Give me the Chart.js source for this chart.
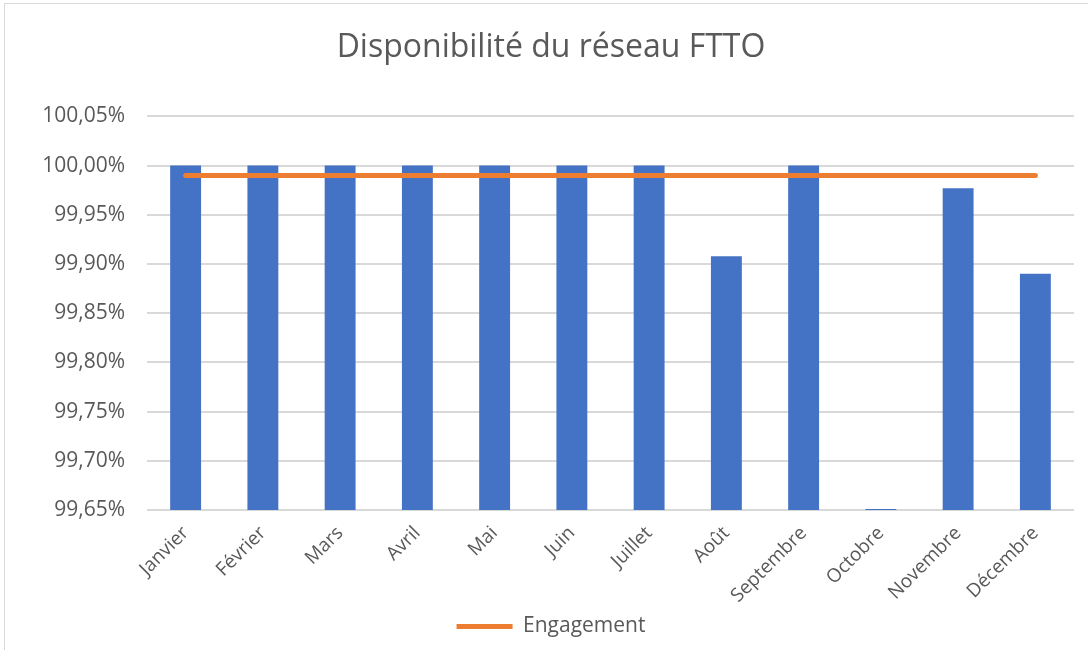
<!DOCTYPE html>
<html>
<head>
<meta charset="utf-8">
<script src="https://cdn.jsdelivr.net/npm/chart.js@4.4.1/dist/chart.umd.min.js"></script>
<style>
    body { margin: 0; background: #ffffff; }
    #frame { position: absolute; left: 4px; top: 3px; width: 1100px; height: 660px; border: 1px solid #d9d9d9; }
    #wrap { position: absolute; left: 0; top: 0; width: 1088px; height: 650px; }
</style>
</head>
<body>
<div id="frame"></div>
<div id="wrap"><canvas id="availability_chart"></canvas></div>
<script>
const months = ["Janvier", "Février", "Mars", "Avril", "Mai", "Juin", "Juillet", "Août", "Septembre", "Octobre", "Novembre", "Décembre"];
const availability = [100, 100, 100, 100, 100, 100, 100, 99.908, 100, 99.651, 99.977, 99.89];
const engagement = [99.99, 99.99, 99.99, 99.99, 99.99, 99.99, 99.99, 99.99, 99.99, 99.99, 99.99, 99.99];

const text_colour = "#595959";
const font_name = "Open Sans";

const availability_chart = new Chart("availability_chart",
{
    type: "bar",
    data:
    {
        labels: months,
        datasets:
        [
            {
                type: "line",
                label: "Engagement",
                data: engagement,
                borderColor: "#ED7D31",
                backgroundColor: "#ED7D31",
                borderWidth: 5,
                borderCapStyle: "round",
                pointRadius: 0,
                fill: false,
                order: 0
            },
            {
                label: "Disponibilité",
                data: availability,
                backgroundColor: "#4472C4",
                barPercentage: 0.4,
                categoryPercentage: 1,
                order: 1
            }
        ]
    },
    options:
    {
        responsive: true,
        maintainAspectRatio: false,
        animation: false,
        layout:
        {
            padding: { left: 28, right: 14, top: 0, bottom: 3 }
        },
        plugins:
        {
            title:
            {
                display: true,
                text: "Disponibilité du réseau FTTO",
                color: text_colour,
                font: { family: font_name, size: 32, weight: "normal" },
                padding: { top: 29, bottom: 49 }
            },
            legend:
            {
                position: "bottom",
                labels:
                {
                    color: text_colour,
                    font: { family: font_name, size: 21 },
                    boxWidth: 56,
                    boxHeight: 5,
                    padding: 10,
                    filter: (item) => item.text === "Engagement",
                    generateLabels: (chart) =>
                    {
                        const items = Chart.defaults.plugins.legend.labels.generateLabels(chart);
                        items.forEach((item) => { item.lineWidth = 0; item.fillStyle = "#ED7D31"; });
                        return items;
                    }
                }
            },
            tooltip: { enabled: false }
        },
        scales:
        {
            x:
            {
                grid: { display: false },
                border: { display: false },
                ticks:
                {
                    color: text_colour,
                    font: { family: font_name, size: 19 },
                    minRotation: 45,
                    maxRotation: 45,
                    padding: 4
                },
                afterFit: (scale) => { scale.height = 96; }
            },
            y:
            {
                min: 99.65,
                max: 100.05,
                grid: { color: "#d9d9d9", lineWidth: 2, drawTicks: false },
                border: { display: false },
                ticks:
                {
                    stepSize: 0.05,
                    color: text_colour,
                    font: { family: font_name, size: 21 },
                    padding: 22,
                    callback: (value) => value.toFixed(2).replace(".", ",") + "%"
                },
                afterFit: (scale) => { scale.width = 119; }
            }
        }
    }
});
</script>
</body>
</html>
